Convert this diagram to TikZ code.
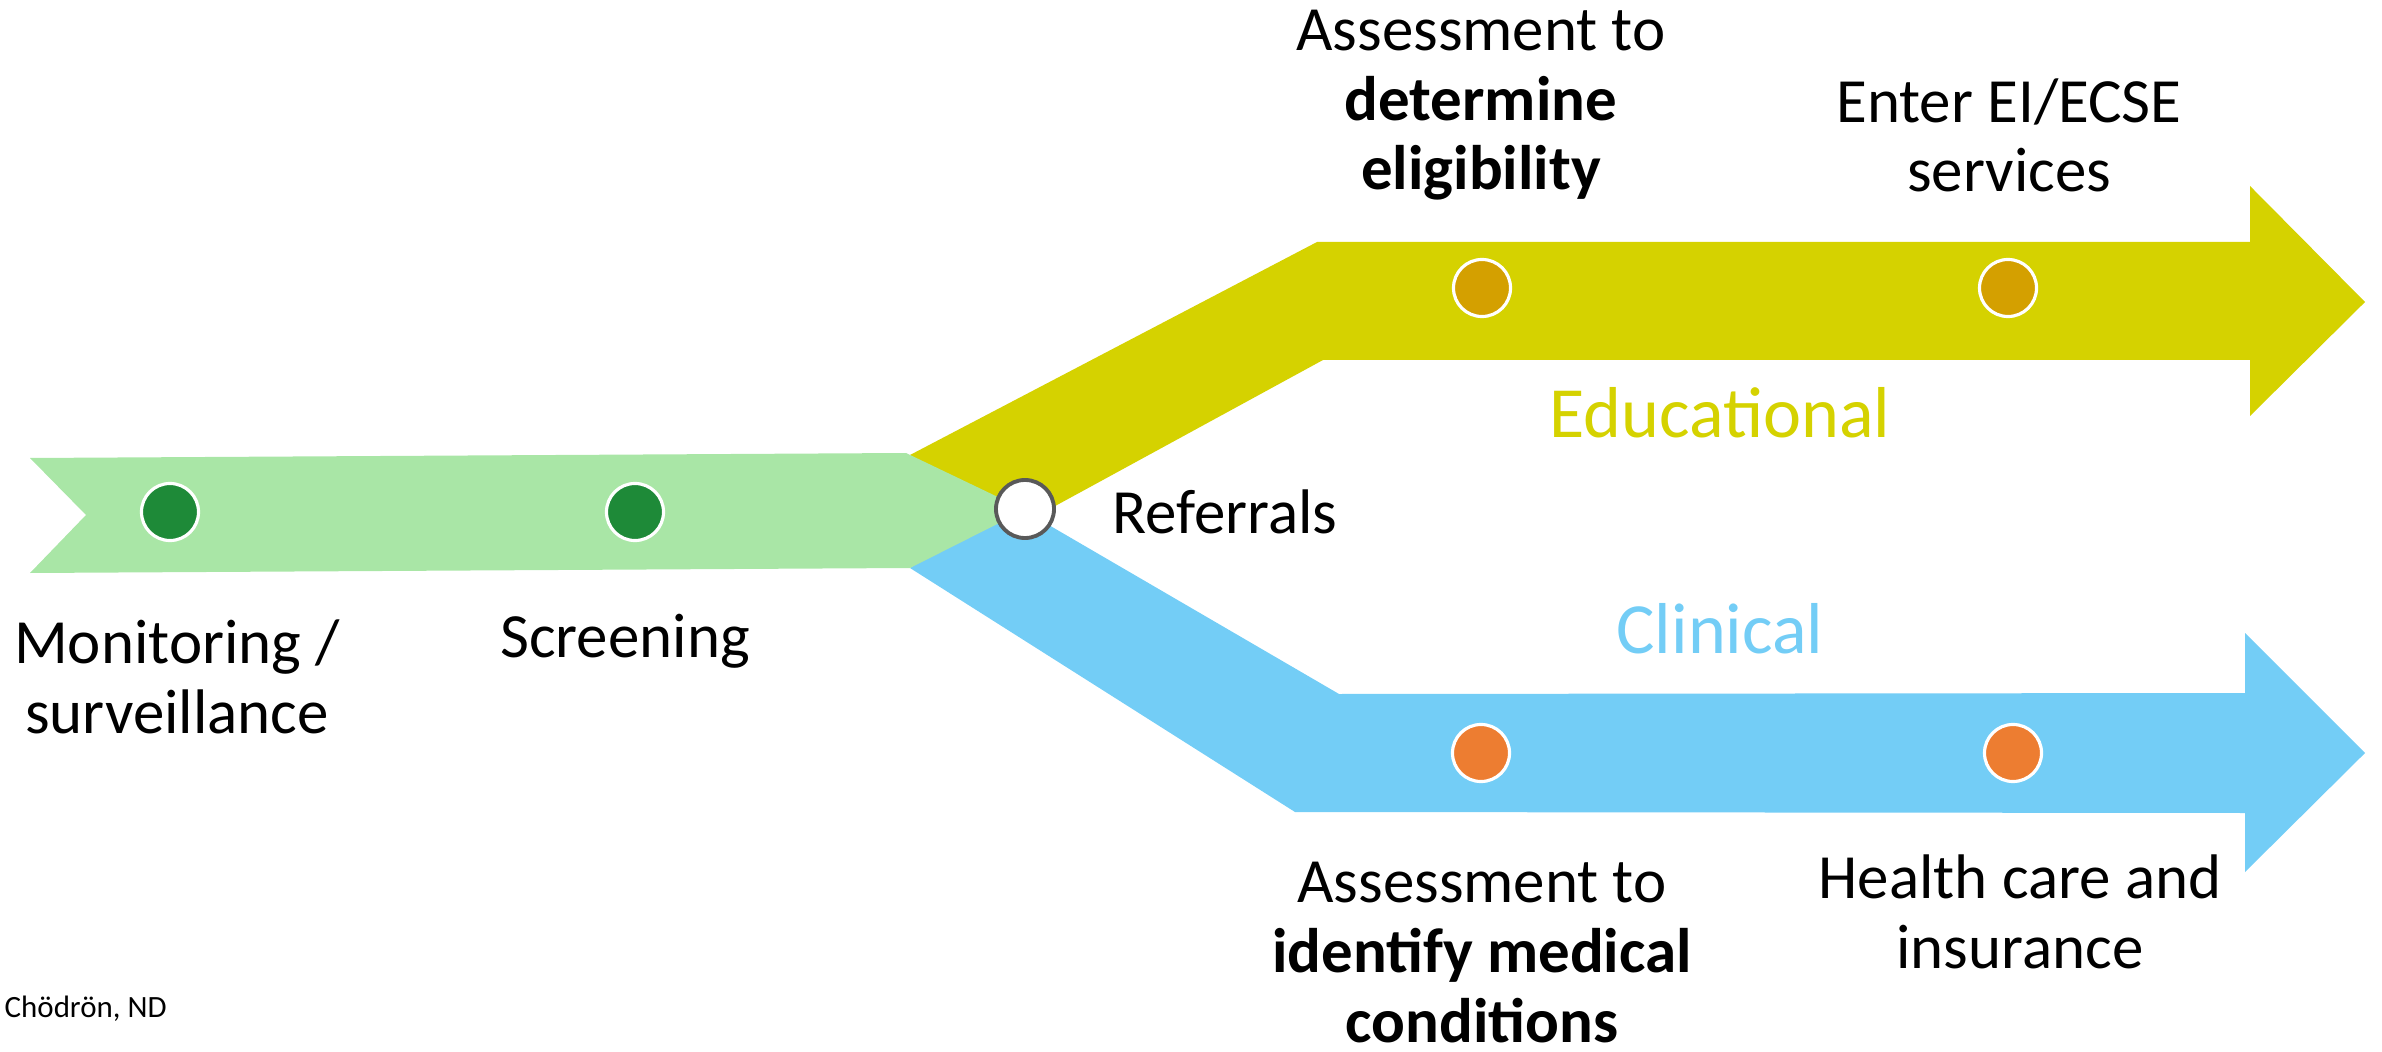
\documentclass[tikz,border=0pt]{standalone}
\usepackage{fontspec}
\setmainfont{Carlito}
\definecolor{bandgreen}{HTML}{A9E6A6}
\definecolor{dotgreen}{HTML}{1E8A38}
\definecolor{bandyellow}{HTML}{D5D200}
\definecolor{dotgold}{HTML}{D4A000}
\definecolor{bandblue}{HTML}{73CDF6}
\definecolor{dotorange}{HTML}{ED7D31}
\definecolor{ringgray}{HTML}{595959}
\tikzset{
  dotnode/.style={circle, minimum size=0.57cm, inner sep=0pt, draw=white, line width=0.9pt},
  lbl/.style={align=center, anchor=base, inner sep=0pt, font=\fontsize{17.9pt}{19.9pt}\selectfont},
  branch/.style={align=center, anchor=base, inner sep=0pt, font=\fontsize{20.5pt}{22pt}\selectfont},
}
\begin{document}
\begin{tikzpicture}[x=0.01cm,y=-0.01cm]
\useasboundingbox (0,0) rectangle (2382,1052);
% yellow band
\fill[bandyellow] (910,455) -- (1317,242) -- (2250,242) -- (2250,186) -- (2365,302) -- (2250,416) -- (2250,360) -- (1323,360) -- (1035,517) -- (990,505) -- cycle;
% blue band
\fill[bandblue] (1035,517) -- (1339,694) -- (2245,693) -- (2245,633) -- (2365,753) -- (2245,872) -- (2245,813) -- (1295,812) -- (910,568) -- (990,515) -- cycle;
% green band
\fill[bandgreen] (30,458) -- (906,453) -- (1025,510) -- (910,568) -- (30,573) -- (86,515) -- cycle;
% dots
\node[dotnode, fill=dotgreen] (g1) at (170,512) {};
\node[dotnode, fill=dotgreen] (g2) at (635,512) {};
\node[circle, minimum size=0.58cm, inner sep=0pt, draw=ringgray, line width=1.1pt, fill=white] (ref) at (1025,509) {};
\node[dotnode, fill=dotgold] (y1) at (1482,288) {};
\node[dotnode, fill=dotgold] (y2) at (2008,288) {};
\node[dotnode, fill=dotorange] (o1) at (1481,753) {};
\node[dotnode, fill=dotorange] (o2) at (2013,753) {};
% labels
\node[lbl] (tmon) at (177,733) {Monitoring /\\surveillance};
\node[lbl] (tscr) at (625,657) {Screening};
\node[lbl, anchor=base west] (tref) at (1112,533) {Referrals};
\node[lbl] (tdet) at (1481,190) {Assessment to\\\textbf{determine}\\\textbf{eligibility}};
\node[lbl] (tent) at (2009,192) {Enter EI/ECSE\\services};
\node[branch, text=bandyellow] (tedu) at (1720,437) {Educational};
\node[branch, text=bandblue] (tcli) at (1720,653) {Clinical};
\node[lbl] (tmed) at (1482,1042) {Assessment to\\\textbf{identify medical}\\\textbf{conditions}};
\node[lbl] (thea) at (2020,968) {Health care and\\insurance};
\node[anchor=base west, inner sep=0pt, font=\fontsize{8.8pt}{10pt}\selectfont] (tsrc) at (4,1017) {Chödrön, ND};
\end{tikzpicture}
\end{document}
